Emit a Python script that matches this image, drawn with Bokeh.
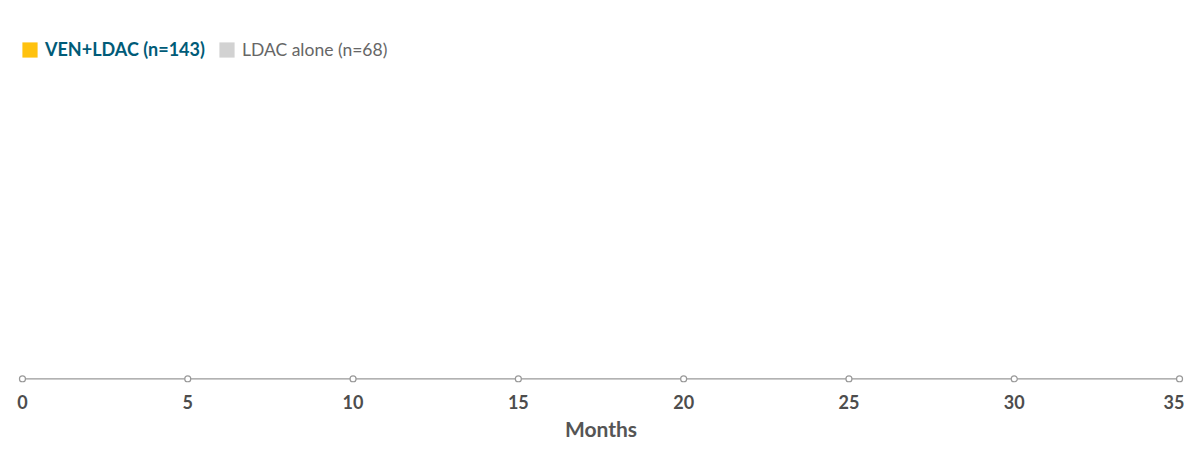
from bokeh.plotting import figure
from bokeh.models import Range1d, FixedTicker, Legend, LegendItem, ColumnDataSource
from bokeh.embed import file_html
from bokeh.resources import INLINE

# ---- data ----
x_ticks = [0, 5, 10, 15, 20, 25, 30, 35]
series_names = ["VEN+LDAC (n=143)", "LDAC alone (n=68)"]
series_colors = ["#FFC20E", "#D2D2D2"]
# survival curves (no points drawn in the reference)
ven_months = []
ven_values = []
ldac_months = []
ldac_values = []

NAN = float("nan")

p = figure(width=1184, height=448, output_backend="svg", toolbar_location=None,
           x_range=Range1d(-0.15, 35.15), y_range=Range1d(-1, 100),
           min_border_left=17, min_border_right=0, min_border_top=20, min_border_bottom=66)
p.outline_line_color = None
p.grid.visible = False
p.yaxis.visible = False

xa = p.xaxis[0]
xa.ticker = FixedTicker(ticks=x_ticks)
xa.axis_line_color = None
xa.major_tick_line_color = None
xa.minor_tick_line_color = None
xa.major_label_standoff = 6
xa.major_label_text_font = "Lato"
xa.major_label_text_font_style = "bold"
xa.major_label_text_font_size = "18px"
xa.major_label_text_color = "#4d4d4d"
xa.axis_label = "Months"
xa.axis_label_text_font = "Lato"
xa.axis_label_text_font_style = "bold"
xa.axis_label_text_font_size = "21px"
xa.axis_label_text_color = "#555555"
xa.axis_label_standoff = 4

# axis line and tick markers
p.segment(x0=[min(x_ticks)], y0=[0], x1=[max(x_ticks)], y1=[0],
          line_color="#999999", line_width=1.2)
p.scatter(x=x_ticks, y=[0] * len(x_ticks), marker="circle", size=6,
          fill_color="white", line_color="#999999", line_width=1.2)

# series
ven_src = ColumnDataSource(dict(x=ven_months, y=ven_values))
ldac_src = ColumnDataSource(dict(x=ldac_months, y=ldac_values))
p.step("x", "y", source=ven_src, mode="after", line_color=series_colors[0], line_width=3)
p.step("x", "y", source=ldac_src, mode="after", line_color=series_colors[1], line_width=3)

# legend swatches (proxy glyphs with no visible extent)
sw1 = p.quad(left=[NAN], right=[NAN], top=[NAN], bottom=[NAN],
             fill_color=series_colors[0], line_color=None)
sw2 = p.quad(left=[NAN], right=[NAN], top=[NAN], bottom=[NAN],
             fill_color=series_colors[1], line_color=None)

def make_legend(label, r, color, style, size, loc):
    lg = Legend(items=[LegendItem(label=label, renderers=[r])], location=loc,
                orientation="horizontal", padding=0, margin=0, spacing=0,
                glyph_width=19, glyph_height=19, label_standoff=6,
                label_text_font="Lato", label_text_font_size=size,
                label_text_font_style=style, label_text_color=color,
                border_line_color=None, background_fill_alpha=0)
    p.add_layout(lg)
    return lg

make_legend(series_names[0], sw1, "#005b78", "bold", "18px", (3, 322))
make_legend(series_names[1], sw2, "#666666", "normal", "17.5px", (200, 322))

open("out.html", "w").write(file_html(p, INLINE))
